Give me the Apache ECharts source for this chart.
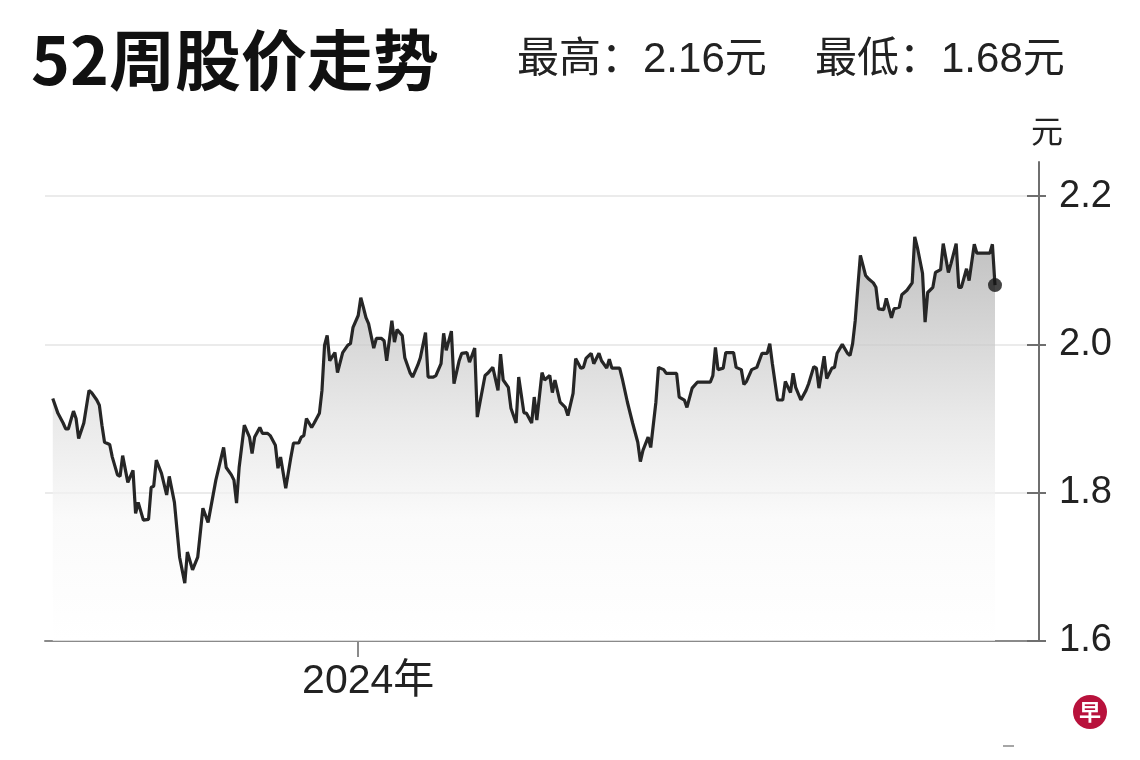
<!DOCTYPE html>
<html>
<head>
<meta charset="utf-8">
<script src="https://cdn.jsdelivr.net/npm/echarts@6/dist/echarts.min.js"></script>
<style>
html,body{margin:0;padding:0;background:#fff;}
#chart{width:1140px;height:760px;}
</style>
</head>
<body>
<div id="chart"></div>
<script>
// days counted from the first trading day in the window
const days = [
  0,2,4,5,6,8,9,10,12,14,
  15,17,18,19,20,22,23,25,26,27,
  29,31,32,33,35,37,38,39,40,42,
  44,45,47,48,49,51,52,54,56,58,
  60,63,66,67,69,70,71,72,74,76,
  77,78,80,81,83,84,86,87,88,90,
  92,93,95,96,97,98,100,101,103,104,
  105,106,107,109,110,112,114,115,116,118,
  119,120,121,122,124,125,127,128,129,131,
  132,133,135,136,138,139,141,142,144,145,
  147,148,150,151,152,154,155,157,158,160,
  161,163,164,165,167,168,170,172,173,174,
  176,177,179,180,182,183,185,186,187,189,
  190,192,193,194,196,198,199,201,202,204,
  205,206,208,209,211,212,214,215,216,219,
  220,222,224,226,227,228,230,231,233,234,
  236,237,241,242,244,245,247,249,254,255,
  256,257,259,260,263,264,266,267,268,270,
  272,274,276,277,278,280,282,283,285,286,
  287,289,291,292,294,295,296,298,299,301,
  302,303,305,307,308,309,310,311,312,314,
  315,317,318,319,321,322,324,325,327,328,
  330,332,333,334,336,337,338,340,341,343,
  344,346,347,349,350,351,353,354,356,357,
  362,363,364
];
const prices = [
  1.927,1.907,1.894,1.886,1.886,1.910,1.900,1.873,1.894,1.938,
  1.935,1.925,1.918,1.891,1.868,1.865,1.848,1.824,1.822,1.850,
  1.814,1.830,1.772,1.787,1.763,1.764,1.807,1.809,1.844,1.826,
  1.797,1.822,1.787,1.750,1.713,1.678,1.720,1.696,1.713,1.779,
  1.760,1.817,1.861,1.834,1.824,1.817,1.786,1.834,1.891,1.875,
  1.853,1.875,1.888,1.880,1.880,1.877,1.864,1.833,1.848,1.806,
  1.848,1.867,1.867,1.875,1.877,1.900,1.888,1.894,1.907,1.938,
  1.999,2.012,1.978,1.989,1.962,1.989,1.999,2.001,2.023,2.039,
  2.063,2.050,2.036,2.028,1.995,2.008,2.008,2.005,1.978,2.032,
  2.003,2.020,2.012,1.982,1.962,1.956,1.972,1.982,2.016,1.956,
  1.956,1.958,1.974,2.015,1.992,2.018,1.947,1.978,1.988,1.989,
  1.976,1.995,1.902,1.921,1.958,1.961,1.969,1.938,1.987,1.952,
  1.942,1.914,1.894,1.956,1.908,1.907,1.894,1.929,1.898,1.962,
  1.952,1.958,1.935,1.952,1.922,1.915,1.904,1.934,1.981,1.968,
  1.969,1.981,1.988,1.974,1.988,1.978,1.968,1.980,1.968,1.968,
  1.954,1.922,1.894,1.868,1.842,1.857,1.875,1.861,1.922,1.969,
  1.966,1.961,1.961,1.929,1.925,1.915,1.941,1.949,1.949,1.958,
  1.996,1.966,1.968,1.989,1.989,1.969,1.966,1.946,1.950,1.966,
  1.969,1.988,1.988,2.001,1.974,1.925,1.925,1.950,1.935,1.961,
  1.942,1.925,1.938,1.947,1.970,1.968,1.941,1.984,1.954,1.968,
  1.969,1.988,2.000,1.988,1.985,2.001,2.032,2.077,2.120,2.093,
  2.089,2.083,2.077,2.048,2.047,2.062,2.036,2.048,2.050,2.067,
  2.073,2.083,2.145,2.131,2.096,2.030,2.070,2.077,2.097,2.101,
  2.136,2.097,2.109,2.136,2.077,2.077,2.102,2.086,2.135,2.123,
  2.123,2.135,2.080
];
const xTickDays = [118];            // 2024-01-01
const xTickLabels = ['2024年'];
const yTicks = [1.6, 1.8, 2.0, 2.2];
const titleText = '52周股价走势';
const highText = '最高：2.16元';
const lowText = '最低：1.68元';
const unitText = '元';

const seriesData = days.map((d, i) => [d, prices[i]]);
const lastPoint = seriesData[seriesData.length - 1];
const FONT = '"Liberation Sans", "Noto Sans CJK SC", sans-serif';

const chart = echarts.init(document.getElementById('chart'), null, {renderer: 'canvas'});
chart.setOption({
  backgroundColor: '#ffffff',
  animation: false,
  title: [
    {text: titleText, left: 26, top: 22,
     textStyle: {fontSize: 66, fontWeight: 'bold', color: '#111', fontFamily: '"Noto Sans CJK SC", sans-serif'}},
    {text: highText, left: 512, top: 34,
     textStyle: {fontSize: 42, fontWeight: 'normal', color: '#222', fontFamily: FONT}},
    {text: lowText, left: 810, top: 34,
     textStyle: {fontSize: 42, fontWeight: 'normal', color: '#222', fontFamily: FONT}}
  ],
  grid: {left: 45, right: 101, top: 162, bottom: 119, containLabel: false},
  xAxis: {
    type: 'value', min: -3, max: 381,
    axisLine: {show: true, onZero: false, lineStyle: {color: '#8a8a8a', width: 2}},
    axisTick: {show: true, customValues: xTickDays, length: 16, lineStyle: {color: '#8a8a8a', width: 2}},
    axisLabel: {show: true, customValues: xTickDays, margin: 20, fontSize: 41, color: '#222', fontFamily: FONT,
      align: 'center', padding: [0, 0, 0, 20],
      formatter: v => xTickLabels[xTickDays.indexOf(v)] || ''},
    splitLine: {show: false}
  },
  yAxis: [
    {
      type: 'value', position: 'right', min: 1.6, max: 2.246, interval: 0.2,
      name: unitText, nameLocation: 'end', nameGap: 12,
      nameTextStyle: {fontSize: 32, color: '#222', fontFamily: FONT, padding: [0, 0, 0, 16]},
      axisLine: {show: true, onZero: false, lineStyle: {color: '#6f6f6f', width: 2}},
      axisTick: {show: true, customValues: yTicks, inside: false, length: 7, lineStyle: {color: '#6f6f6f', width: 2}},
      axisLabel: {show: true, customValues: yTicks, margin: 20, fontSize: 38, color: '#222', fontFamily: FONT,
        formatter: v => v.toFixed(1)},
      splitLine: {show: true, lineStyle: {color: ['#ebebeb', '#ebebeb', '#ebebeb', '#ebebeb', 'rgba(0,0,0,0)'], width: 2}}
    },
    {
      type: 'value', position: 'right', min: 1.6, max: 2.246, interval: 0.2,
      axisLine: {show: false, onZero: false},
      axisTick: {show: true, customValues: yTicks, inside: true, length: 12, lineStyle: {color: '#6f6f6f', width: 2}},
      axisLabel: {show: false},
      splitLine: {show: false}
    }
  ],
  series: [
    {
      type: 'line', data: seriesData, symbol: 'none', smooth: false,
      lineStyle: {color: '#262626', width: 3.2},
      areaStyle: {
        color: new echarts.graphic.LinearGradient(0, 0, 0, 1, [
          {offset: 0, color: 'rgba(165,165,165,1)'},
          {offset: 0.2, color: 'rgba(192,192,192,1)'},
          {offset: 0.45, color: 'rgba(224,224,224,1)'},
          {offset: 0.7, color: 'rgba(248,248,248,1)'},
          {offset: 1, color: 'rgba(255,255,255,1)'}
        ])
      },
      z: 3
    },
    {
      type: 'scatter', data: [lastPoint], symbol: 'circle', symbolSize: 14,
      itemStyle: {color: '#151515'}, z: 4
    }
  ],
  graphic: [
    {type: 'circle', shape: {cx: 1090, cy: 712, r: 17}, style: {fill: '#b8123c'}},
    {type: 'text', x: 1090, y: 712, style: {text: '早', fill: '#fff', fontSize: 22, fontWeight: 'bold',
      fontFamily: '"Noto Sans CJK SC", sans-serif', align: 'center', verticalAlign: 'middle'}},
    {type: 'line', shape: {x1: 1003, y1: 746, x2: 1014, y2: 746}, style: {stroke: '#888', lineWidth: 1.5}}
  ]
});
</script>
</body>
</html>
